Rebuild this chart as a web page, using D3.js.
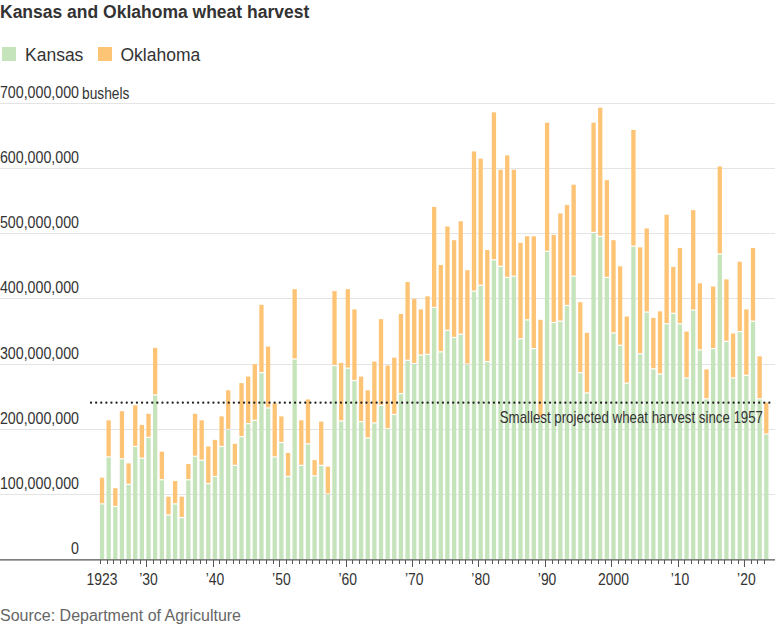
<!DOCTYPE html>
<html><head><meta charset="utf-8">
<script src="https://cdn.jsdelivr.net/npm/d3@7"></script>
<style>
html,body{margin:0;padding:0;background:#fff;}
svg{display:block;}
</style></head>
<body>
<script>
const years = d3.range(1923, 2024);
// millions of bushels
const kansas = [84,156,80,153,114,172,154,186,251,121,67,84,63,121,157,151,115,126,172,198,143,187,207,212,285,231,156,178,126,306,143,176,127,143,99,296,211,292,273,210,185,208,235,199,221,253,304,299,312,313,385,317,350,339,344,298,410,419,302,458,448,431,433,337,366,322,216,471,362,364,388,433,285,254,500,494,431,346,327,269,479,314,378,291,283,360,376,360,277,381,320,245,322,467,333,277,348,281,364,245,191];
const oklahoma = [41,57,29,74,33,64,52,37,73,44,29,36,33,25,66,62,58,57,47,61,34,83,73,87,105,95,83,41,37,108,70,69,25,68,43,115,90,122,110,70,74,95,133,98,88,123,121,100,71,90,155,134,160,150,174,145,215,195,172,227,149,188,164,148,129,173,151,198,135,166,155,141,109,93,169,198,150,143,122,103,179,164,129,79,97,168,72,117,72,154,103,46,96,135,96,69,108,102,113,66,49];
const yTicks = [0,100,200,300,400,500,600,700];
const yTickLabels = ["0","100,000,000","200,000,000","300,000,000","400,000,000","500,000,000","600,000,000","700,000,000"];
const xTickYears = [1923,1930,1940,1950,1960,1970,1980,1990,2000,2010,2020];
const xTickLabels = ["1923","\u201930","\u201940","\u201950","\u201960","\u201970","\u201980","\u201990","2000","\u201910","\u201920"];
const seriesNames = ["Kansas","Oklahoma"];
const refValue = 240;
const refLabel = "Smallest projected wheat harvest since 1957";

const W = 775, H = 625;
const cGreen = "#c6e4bb", cOrange = "#fec476";
const sans = "'Liberation Sans', Arial, sans-serif";

const svg = d3.select("body").append("svg").attr("width", W).attr("height", H);

// condensed text helper (horizontal squeeze)
function ctext(parent, tx, ty, str, size, sx, anchor, fill) {
  return parent.append("text")
    .attr("transform", `translate(${tx},${ty}) scale(${sx},1)`)
    .attr("text-anchor", anchor || "start")
    .attr("font-family", sans).attr("font-size", size).attr("fill", fill || "#333")
    .text(str);
}

const x = d3.scaleBand().domain(years).range([98.7, 769.6]).paddingInner(0.35).paddingOuter(0.175);
const y = d3.scaleLinear().domain([0, 700]).range([559.3, 102.5]);

// title
svg.append("text").attr("x", 0).attr("y", 18).text("Kansas and Oklahoma wheat harvest")
  .attr("font-family", sans).attr("font-weight", "bold").attr("font-size", 17.5).attr("fill", "#333");

// legend
const leg = [[2, 25, cGreen], [98, 120.5, cOrange]];
seriesNames.forEach((n, i) => {
  svg.append("rect").attr("x", leg[i][0]).attr("y", 47).attr("width", 14).attr("height", 14).attr("fill", leg[i][2]);
  svg.append("text").attr("x", leg[i][1]).attr("y", 61).text(n)
    .attr("font-family", sans).attr("font-size", 17.5).attr("fill", "#333");
});

// gridlines + labels
const g = svg.append("g");
yTicks.forEach((t, i) => {
  if (t > 0) g.append("line").attr("x1", 0).attr("x2", W).attr("y1", Math.round(y(t)) + 0.5).attr("y2", Math.round(y(t)) + 0.5)
    .attr("stroke", "#e4e4e4").attr("stroke-width", 1);
  ctext(g, 79, y(t) - 5, yTickLabels[i], 16, 0.89, "end");
});
ctext(g, 82, y(700) - 4, "bushels", 16, 0.86, "start");

// bars
const bars = svg.append("g");
bars.selectAll("rect.k").data(years).join("rect").attr("class", "k")
  .attr("x", d => x(d)).attr("width", x.bandwidth())
  .attr("y", (d, i) => y(kansas[i])).attr("height", (d, i) => y(0) - y(kansas[i]))
  .attr("fill", cGreen);
bars.selectAll("rect.o").data(years).join("rect").attr("class", "o")
  .attr("x", d => x(d)).attr("width", x.bandwidth())
  .attr("y", (d, i) => y(kansas[i] + oklahoma[i]))
  .attr("height", (d, i) => Math.max(0, y(kansas[i]) - y(kansas[i] + oklahoma[i]) - 1.2))
  .attr("fill", cOrange);

// reference dotted line
svg.append("line").attr("x1", 91).attr("x2", 772).attr("y1", y(refValue)).attr("y2", y(refValue))
  .attr("stroke", "#222").attr("stroke-width", 2.2).attr("stroke-linecap", "round")
  .attr("stroke-dasharray", "0.1,5");
ctext(svg, 763, y(refValue) + 20, refLabel, 16, 0.83, "end");

// x axis
const ax = svg.append("g");
ax.append("line").attr("x1", 0).attr("x2", W).attr("y1", 559.8).attr("y2", 559.8).attr("stroke", "#555").attr("stroke-width", 1.3);
ax.selectAll("line.t").data(years).join("line").attr("class", "t")
  .attr("x1", d => Math.round(x(d)) + 0.5).attr("x2", d => Math.round(x(d)) + 0.5)
  .attr("y1", 560).attr("y2", d => xTickYears.includes(d) && d !== 1923 ? 567 : 564)
  .attr("stroke", "#555").attr("stroke-width", 1);
xTickYears.forEach((yr, i) => {
  ctext(ax, x(yr) + x.bandwidth() / 2, 585, xTickLabels[i], 16, 0.87, "middle");
});

// source
svg.append("text").attr("x", 0).attr("y", 621).text("Source: Department of Agriculture")
  .attr("font-family", sans).attr("font-size", 16).attr("fill", "#666");
</script>
</body></html>
